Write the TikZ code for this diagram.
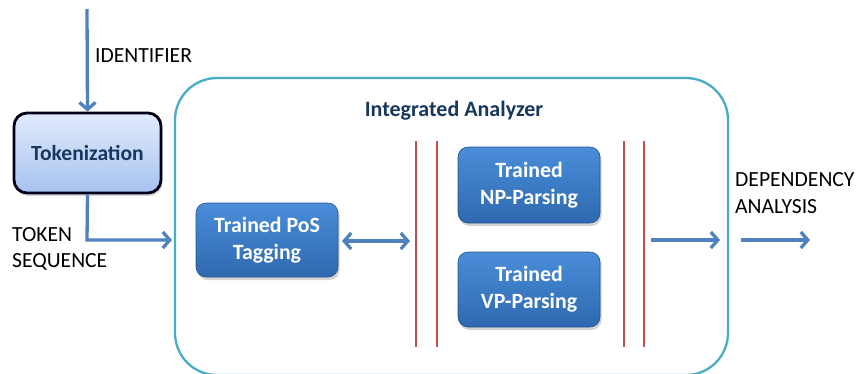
\documentclass[tikz,border=0pt]{standalone}
\usepackage{fontspec}
\setmainfont{Carlito}
\usetikzlibrary{arrows.meta,shadows}
\definecolor{arrowblue}{HTML}{4F81BD}
\definecolor{teal}{HTML}{4BACC6}
\definecolor{redline}{HTML}{C0504D}
\definecolor{navy}{HTML}{17375E}
\definecolor{boxtop}{HTML}{4A8DD9}
\definecolor{boxbot}{HTML}{2E69B0}
\definecolor{tokTop}{HTML}{E2EBFC}
\definecolor{tokBot}{HTML}{A6C2EF}
\tikzset{
  flow/.style={draw=arrowblue, line width=3.3pt, -{Straight Barb[length=7pt,width=16pt,line width=3.3pt]}},
  biflow/.style={draw=arrowblue, line width=3.3pt, {Straight Barb[length=7pt,width=16pt,line width=3.3pt]}-{Straight Barb[length=7pt,width=16pt,line width=3.3pt]}},
  bluebox/.style={rounded corners=10pt, top color=boxtop, bottom color=boxbot, draw=boxbot!80!black, line width=0.6pt,
    drop shadow={opacity=0.35, shadow xshift=1.5pt, shadow yshift=-3pt},
    text=white, font=\fontsize{21.8}{27}\selectfont\bfseries, align=center, inner sep=0pt},
  tokbox/.style={rounded corners=13pt, top color=tokTop, bottom color=tokBot, draw=black!90!blue, line width=2.8pt,
    drop shadow={opacity=0.3, shadow xshift=1.5pt, shadow yshift=-3pt},
    text=navy, font=\fontsize{21.6}{26}\selectfont\bfseries, inner sep=0pt},
  lbl/.style={font=\fontsize{21.6}{26.5}\selectfont, text=black, align=left, inner sep=0pt},
  sep/.style={draw=redline, line width=2.3pt},
  container/.style={draw=teal, line width=2.3pt, rounded corners=42pt}
}
\begin{document}
\begin{tikzpicture}[x=1pt,y=-1pt]
\useasboundingbox (0,0) rectangle (858,373);
% container
\draw[container] (175,78) rectangle (728,375);
\node[font=\fontsize{22}{26}\selectfont\bfseries, text=navy, inner sep=0pt] (title) at (454,111) {Integrated Analyzer};
% tokenization
\node[tokbox, minimum width=147pt, minimum height=80pt] (tok) at (87.5,153) {Tokenization};
\coordinate (src) at (87,9);
\draw[flow] (src) -- (tok.north);
\node[lbl, anchor=west] (ident) at (95,56) {IDENTIFIER};
% PoS box
\node[bluebox, minimum width=142pt, minimum height=74pt] (pos) at (267,240) {Trained PoS\\Tagging};
\coordinate (bend) at (87,240);
\draw[flow] (tok.south) -- (bend) -- (172,240);
\node[lbl, anchor=west] (tokseq) at (12,249) {TOKEN\\SEQUENCE};
% red separator lines
\coordinate (r1t) at (416,141); \coordinate (r1b) at (416,347);
\coordinate (r2t) at (437,141); \coordinate (r2b) at (437,347);
\coordinate (r3t) at (624,141); \coordinate (r3b) at (624,347);
\coordinate (r4t) at (644,141); \coordinate (r4b) at (644,347);
\draw[sep] (r1t) -- (r1b);
\draw[sep] (r2t) -- (r2b);
\draw[sep] (r3t) -- (r3b);
\draw[sep] (r4t) -- (r4b);
% double arrow
\coordinate (da) at (342,241);
\coordinate (db) at (410,241);
\draw[biflow] (da) -- (db);
% NP / VP boxes
\node[bluebox, minimum width=142pt, minimum height=76pt] (np) at (529,185) {Trained\\NP-Parsing};
\node[bluebox, minimum width=142pt, minimum height=75pt] (vp) at (529,289.5) {Trained\\VP-Parsing};
% output arrows
\coordinate (o1) at (651,240); \coordinate (o2) at (720,240);
\draw[flow] (o1) -- (o2);
\coordinate (o3) at (741,240); \coordinate (o4) at (810,240);
\draw[flow] (o3) -- (o4);
\node[lbl, anchor=west] (dep) at (735,193) {DEPENDENCY\\ANALYSIS};
\end{tikzpicture}
\end{document}
